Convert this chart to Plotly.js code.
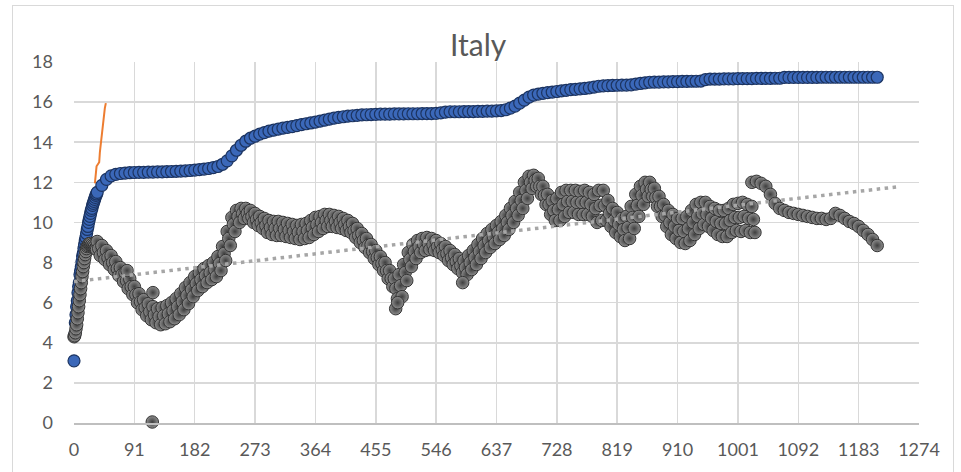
<!DOCTYPE html>
<html><head><meta charset="utf-8">
<script src="https://cdn.plot.ly/plotly-3.0.1.min.js"></script>
<style>
html,body{margin:0;padding:0;background:#fff;}
#wrap{position:relative;width:961px;height:472px;overflow:hidden;}
#chart{position:absolute;left:0;top:0;width:961px;height:472px;}
#frame{position:absolute;left:12px;top:5px;width:940px;height:490px;border:1.5px solid #d9d9d9;pointer-events:none;}
</style></head>
<body><div id="wrap"><div id="chart"></div><div id="frame"></div></div>
<script>
// ---- data ----
var chartTitle = 'Italy';
var xTickStep = 91;

// blue series: days 0..35 daily, then weekly from day 42
var blueEarly = [3.1,4.4,5.0,5.4,5.8,6.1,6.5,6.8,7.0,7.4,7.6,7.8,8.05,8.3,8.45,8.7,8.9,9.1,9.25,9.45,
  9.65,9.8,10.0,10.15,10.3,10.45,10.6,10.7,10.85,10.95,11.05,11.15,11.25,11.35,11.42,11.5];
var blueWeeklyStart = 42;
var blueWeekly = [
  11.85,12.15,12.32,12.4,12.44,12.46,12.48,12.49,12.5,12.5,
  12.51,12.51,12.52,12.52,12.53,12.54,12.55,12.56,12.57,12.59,
  12.61,12.63,12.66,12.69,12.73,12.79,12.9,13.07,13.32,13.6,
  13.85,14.05,14.2,14.3,14.4,14.48,14.55,14.6,14.65,14.7,
  14.74,14.78,14.83,14.88,14.92,14.96,15.0,15.05,15.1,15.15,
  15.2,15.24,15.27,15.3,15.32,15.34,15.36,15.37,15.38,15.39,
  15.4,15.4,15.4,15.41,15.41,15.41,15.42,15.42,15.42,15.43,
  15.43,15.43,15.44,15.46,15.5,15.52,15.52,15.52,15.53,15.53,
  15.53,15.54,15.54,15.55,15.55,15.56,15.58,15.62,15.7,15.8,
  15.95,16.1,16.25,16.35,16.4,16.44,16.47,16.5,16.53,16.56,
  16.59,16.62,16.64,16.66,16.68,16.71,16.75,16.79,16.81,16.82,
  16.83,16.84,16.85,16.85,16.86,16.9,16.93,16.96,16.99,17.0,
  17.0,17.01,17.01,17.02,17.02,17.03,17.03,17.04,17.04,17.05,
  17.12,17.15,17.15,17.15,17.16,17.16,17.16,17.17,17.17,17.17,
  17.17,17.18,17.18,17.18,17.18,17.19,17.19,17.23,17.23,17.23,
  17.23,17.23,17.23,17.23,17.23,17.24,17.24,17.24,17.24,17.24,
  17.24,17.24,17.24,17.24,17.24,17.24,17.24,17.24];

// gray series: days 0..34 daily, then weekly high / mid / low values from day 35 to 1022
var grayEarly = [4.3,4.35,4.5,4.7,4.9,5.2,5.5,5.8,6.1,6.4,6.7,7.0,7.3,7.55,7.8,8.0,8.2,8.4,8.55,8.7,
  8.8,8.85,8.9,8.95,8.9,8.95,8.85,8.9,8.8,8.85,8.75,8.8,8.7,8.7,8.65];
var grayWeeklyStart = 35;
var grayHi = [
  9.05,8.85,8.6,8.35,8.05,7.75,7.5,7.2,6.8,6.45,
  6.15,5.95,5.8,5.7,5.75,5.85,6.0,6.2,6.45,6.75,
  7.0,7.3,7.5,7.7,7.85,8.0,8.3,8.8,9.55,10.25,
  10.6,10.7,10.7,10.6,10.45,10.3,10.2,10.1,10.05,10.05,
  10.0,9.95,9.9,9.85,9.9,9.95,10.1,10.25,10.3,10.4,
  10.4,10.35,10.3,10.2,10.1,9.95,9.7,9.45,9.2,8.9,
  8.6,8.3,8.0,7.6,7.2,7.4,7.9,8.5,8.9,9.1,
  9.2,9.25,9.2,9.1,8.95,8.8,8.6,8.4,8.2,8.1,
  8.35,8.6,8.9,9.2,9.45,9.65,9.85,10.05,10.35,10.7,
  11.05,11.5,12.0,12.3,12.35,12.2,11.8,11.4,11.1,11.2,
  11.5,11.6,11.6,11.6,11.55,11.6,11.5,11.4,11.6,11.6,
  11.1,10.7,10.5,10.2,10.3,10.8,11.4,11.8,12.0,12.0,
  11.7,11.3,10.9,10.6,10.4,10.2,10.2,10.3,10.6,10.9,
  11.0,11.0,10.8,10.7,10.6,10.6,10.7,10.9,10.95,11.0,
  10.9,10.8];
var grayMid = [
  8.7,8.5,8.25,8.0,7.7,7.4,7.1,6.8,6.4,6.05,
  5.75,5.55,5.4,5.3,5.35,5.45,5.6,5.8,6.05,6.35,
  6.65,6.95,7.15,7.35,7.5,7.65,7.95,8.45,9.2,9.9,
  10.3,10.45,10.45,10.3,10.15,10.0,9.85,9.75,9.7,9.7,
  9.65,9.6,9.55,9.5,9.55,9.6,9.75,9.9,10.0,10.1,
  10.1,10.05,10.0,9.9,9.8,9.6,9.35,9.1,8.85,8.55,
  8.25,7.95,7.6,7.2,6.7,6.85,7.5,8.15,8.55,8.8,
  8.9,8.95,8.9,8.8,8.65,8.45,8.25,8.05,7.85,7.75,
  8.0,8.25,8.55,8.85,9.1,9.3,9.5,9.7,10.0,10.35,
  10.7,11.1,11.6,12.0,12.1,11.8,11.35,10.9,10.6,10.65,
  10.9,11.05,11.05,11.0,11.0,11.0,10.9,10.7,10.85,10.85,
  10.45,10.1,9.9,9.65,9.75,10.25,10.85,11.35,11.65,11.65,
  11.25,10.8,10.35,10.0,9.8,9.6,9.55,9.7,10.0,10.3,
  10.45,10.4,10.2,10.05,9.95,9.95,10.1,10.25,10.25,10.3,
  10.2,10.15];
var grayLo = [
  8.35,8.15,7.9,7.65,7.35,7.05,6.7,6.4,6.0,5.65,
  5.35,5.15,5.0,4.9,4.95,5.05,5.2,5.4,5.65,5.95,
  6.3,6.6,6.8,7.0,7.15,7.3,7.6,8.1,8.85,9.55,
  10.0,10.2,10.2,10.0,9.85,9.7,9.5,9.4,9.35,9.35,
  9.3,9.25,9.2,9.15,9.2,9.25,9.4,9.55,9.7,9.8,
  9.8,9.75,9.7,9.6,9.5,9.25,9.0,8.75,8.5,8.2,
  7.9,7.6,7.2,6.8,6.2,6.3,7.1,7.8,8.2,8.5,
  8.6,8.65,8.6,8.5,8.35,8.1,7.9,7.7,7.5,7.4,
  7.65,7.9,8.2,8.5,8.75,8.95,9.15,9.35,9.65,10.0,
  10.35,10.7,11.2,11.7,11.8,11.4,10.9,10.4,10.1,10.1,
  10.3,10.5,10.5,10.4,10.4,10.4,10.3,10.0,10.1,10.1,
  9.8,9.5,9.3,9.1,9.2,9.7,10.3,10.9,11.3,11.3,
  10.8,10.3,9.8,9.4,9.2,9.0,8.95,9.1,9.4,9.7,
  9.9,9.8,9.6,9.4,9.3,9.3,9.5,9.6,9.55,9.6,
  9.5,9.5];
// isolated gray points
var grayOutDays = [80,119,118,485,488,586];
var grayOutVals = [7.6,6.5,0.05,5.7,6.0,7.0];
// gray late segment (weekly) from day 1022
var grayLateStart = 1022;
var grayLate = [12.0,12.05,11.95,11.8,11.4,10.95,10.7,10.6,10.5,10.45,10.4,10.35,10.3,10.25,
  10.2,10.2,10.15,10.2,10.45,10.35,10.2,10.05,9.95,9.8,9.6,9.4,9.15,8.85];

// orange early line
var orangeDays = [31.5,33,34,36,38,39,40,41.5,42.5,44,45.5,46.5,48];
var orangeVals = [11.95,12.5,12.8,12.9,13.0,13.5,13.8,14.3,14.6,15.1,15.3,15.7,15.95];

// dotted linear trend of gray series
var trendDays = [0,1240];
var trendVals = [7.05,11.77];

// ---- build traces ----
var bx = [], by = [];
blueEarly.forEach(function(v,i){ bx.push(i); by.push(v); });
blueWeekly.forEach(function(v,i){ bx.push(blueWeeklyStart + 7*i); by.push(v); });

var gx = [], gy = [];
grayEarly.forEach(function(v,i){ gx.push(i); gy.push(v); });
grayHi.forEach(function(v,i){
  var d = grayWeeklyStart + 7*i;
  gx.push(d); gy.push(v);
  gx.push(d + 2.33); gy.push(grayMid[i]);
  gx.push(d + 4.67); gy.push(grayLo[i]);
});
grayOutDays.forEach(function(d,i){ gx.push(d); gy.push(grayOutVals[i]); });
var lx = [], ly = [];
grayLate.forEach(function(v,i){ lx.push(grayLateStart + 7*i); ly.push(v); });

var grayMarker = {size:12.5, color:'#8e8e8e', line:{color:'#353535', width:1},
                  gradient:{type:'radial', color:'#3e3e3e'}};
var traces = [
  {x: orangeDays, y: orangeVals, mode:'lines', line:{color:'#ED7D31', width:2}, cliponaxis:false},
  {x: bx, y: by, mode:'markers', cliponaxis:false,
   marker:{size:12, color:'#3b68b9', line:{color:'#1c3461', width:1.2}}},
  {x: gx, y: gy, mode:'markers', cliponaxis:false, marker: grayMarker},
  {x: lx, y: ly, mode:'markers', cliponaxis:false, marker: grayMarker},
  {x: trendDays, y: trendVals, mode:'lines', cliponaxis:false,
   line:{color:'#a6a6a6', width:3.5, dash:'3.5px,4.5px'}}
];

var tickFont = {family:'Lato, "Open Sans", sans-serif', size:18, color:'#595959'};
var layout = {
  width:961, height:472,
  margin:{l:74, r:42, t:62, b:49},
  paper_bgcolor:'rgba(0,0,0,0)', plot_bgcolor:'rgba(0,0,0,0)',
  showlegend:false,
  title:{text: chartTitle, font:{family:'Lato, "Open Sans", sans-serif', size:30, color:'#595959'},
         xref:'container', x:0.4975, xanchor:'center', yref:'container', y:1-45/472, yanchor:'middle'},
  xaxis:{range:[0,1274], tick0:0, dtick:xTickStep, showgrid:true, gridcolor:'#d9d9d9', gridwidth:1.5,
         showline:true, linecolor:'#bfbfbf', linewidth:1.5, zeroline:false, ticks:'',
         tickfont:tickFont, ticklabelstandoff:10, fixedrange:true},
  yaxis:{range:[0,18], tick0:0, dtick:2, showgrid:true, gridcolor:'#d9d9d9', gridwidth:1.5,
         showline:false, zeroline:false, ticks:'', tickfont:tickFont, ticklabelstandoff:20, fixedrange:true}
};
Plotly.newPlot('chart', traces, layout, {staticPlot:true, displayModeBar:false});
</script></body></html>
